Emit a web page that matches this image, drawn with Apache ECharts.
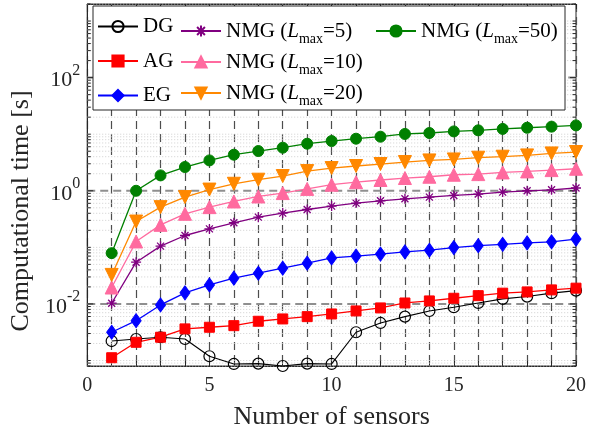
<!DOCTYPE html>
<html><head><meta charset="utf-8">
<script src="https://cdn.jsdelivr.net/npm/echarts@6/dist/echarts.min.js"></script>
<style>html,body{margin:0;padding:0;background:#fff}#c{width:589px;height:435px}</style>
</head><body><div id="c"></div>
<script>
// ---- data ----
const sensors = [1,2,3,4,5,6,7,8,9,10,11,12,13,14,15,16,17,18,19,20];
const DG    = [0.00221,0.0024,0.00258,0.0024,0.00119,0.00087,0.00088,0.0008,0.00088,0.00087,0.00316,0.00461,0.00596,0.0075,0.00875,0.0104,0.0123,0.0135,0.0155,0.0172];
const AG    = [0.00112,0.0021,0.00258,0.00362,0.00387,0.00413,0.00494,0.00543,0.00596,0.00665,0.00752,0.0085,0.0104,0.0113,0.0126,0.014,0.0155,0.0163,0.0177,0.019];
const EG    = [0.00316,0.00506,0.0096,0.0157,0.0217,0.0285,0.0349,0.0428,0.0525,0.065,0.070,0.076,0.083,0.089,0.099,0.107,0.113,0.120,0.125,0.140];
const NMG5  = [0.0103,0.0547,0.105,0.162,0.212,0.272,0.342,0.403,0.467,0.536,0.605,0.665,0.721,0.773,0.826,0.875,0.948,1.0,1.04,1.12];
const NMG10 = [0.0195,0.127,0.25,0.392,0.514,0.647,0.794,0.91,1.08,1.28,1.42,1.55,1.68,1.77,1.92,1.97,2.11,2.20,2.32,2.45];
const NMG20 = [0.0326,0.286,0.514,0.773,1.05,1.33,1.57,1.82,2.23,2.52,2.74,2.97,3.22,3.44,3.58,3.84,4.0,4.22,4.57,4.84];
const NMG50 = [0.079,1.0,1.87,2.63,3.44,4.34,5.04,5.77,6.79,7.57,8.32,9.03,10.1,10.5,11.2,11.7,12.4,13.0,13.6,14.3];
const xTickLabels = [0,5,10,15,20];
const yTickExponents = [-2,0,2];
const yMin = 8e-4, yMax = 2000;
const lmaxValues = {NMG5:'5', NMG10:'10', NMG20:'20', NMG50:'50'};

// minor/major tick values for the log axis (MATLAB-style 1..9 x 10^k)
const yTickValues = [];
for (let k = -4; k <= 3; k++) {
  for (let m = 1; m <= 9; m++) {
    const v = +(m * Math.pow(10, k)).toPrecision(6);
    if (v >= yMin && v <= yMax) yTickValues.push(v);
  }
}

const FONT = 'Liberation Serif';
const TXT = '#262626';
const asterisk = 'path://M5,0 L5,10 M0,5 L10,5 M1.5,1.5 L8.5,8.5 M1.5,8.5 L8.5,1.5';

function pairs(arr){ return sensors.map((s,i)=>[s, arr[i]]); }
function isMajor(v){ const e = Math.log10(v); const r = Math.round(e); return Math.abs(e-r)<1e-6 && yTickExponents.includes(r); }

const chart = echarts.init(document.getElementById('c'), null, {renderer:'canvas'});

function lineSeries(name, data, color, symbol, size, extra){
  return Object.assign({
    name, type:'line', data: pairs(data), symbol, symbolSize: size,
    clip:false, animation:false, z:5,
    lineStyle:{color, width:1.3},
    itemStyle:{color, borderColor:color, borderWidth:1}
  }, extra||{});
}

const legendRich = {
  t:{fontFamily:FONT, fontSize:21, color:'#000', lineHeight:30},
  i:{fontFamily:FONT, fontSize:21, fontStyle:'italic', color:'#000', lineHeight:30},
  sub:{fontFamily:FONT, fontSize:14, color:'#000', lineHeight:14, padding:[16,0,0,0]}
};
function legendFmt(name){
  if (lmaxValues[name]) return '{t|NMG (}{i|L}{sub|max}{t|=' + lmaxValues[name] + ')}';
  return '{t|' + name + '}';
}
function mkLegend(data, left, gap){
  return {data, orient:'vertical', left, top:16, itemWidth:40, itemHeight:14, itemGap:gap,
    padding:0, z:20, formatter:legendFmt, selectedMode:false,
    textStyle:{rich:legendRich, fontFamily:FONT, fontSize:21, color:'#000'}};
}

const option = {
  animation:false,
  backgroundColor:'#fff',
  grid:{left:87, right:13, top:4, bottom:68, show:true, borderColor:TXT, borderWidth:1, containLabel:false},
  graphic:[{type:'rect', shape:{x:93, y:6, width:472, height:104}, style:{fill:'#fff', stroke:TXT, lineWidth:1}, z:15}],
  legend:[ mkLegend(['DG','AG','EG'], 97, 13.5), mkLegend(['NMG5','NMG10','NMG20'], 180, 1), mkLegend(['NMG50'], 375, 1) ],
  xAxis:[{
    type:'value', min:0, max:20, interval:1, position:'bottom',
    name:'Number of sensors', nameLocation:'middle', nameGap:38,
    nameTextStyle:{fontFamily:FONT, fontSize:26, color:TXT},
    axisLine:{show:true, lineStyle:{color:TXT}},
    axisTick:{show:true, inside:true, length:5, lineStyle:{color:TXT}},
    axisLabel:{fontFamily:FONT, fontSize:20, color:TXT, margin:10,
      formatter:v=> xTickLabels.includes(v) ? String(v) : ''},
    splitLine:{show:true, lineStyle:{color:'#4d4d4d', width:1.2, type:[8,5]}}
  },{
    type:'value', min:0, max:20, interval:1, position:'top',
    axisLine:{show:true, lineStyle:{color:TXT}},
    axisTick:{show:true, inside:true, length:5, lineStyle:{color:TXT}},
    axisLabel:{show:false}, splitLine:{show:false}
  }],
  yAxis:[{
    type:'log', logBase:10, min:yMin, max:yMax,
    name:'Computational time [s]', nameLocation:'middle', nameGap:52,
    nameTextStyle:{fontFamily:FONT, fontSize:26, color:TXT, padding:[0,52,0,0]},
    axisLine:{show:true, lineStyle:{color:TXT}},
    axisTick:{show:false}, splitLine:{show:false}, minorTick:{show:false},
    axisLabel:{fontFamily:FONT, fontSize:22, color:TXT, margin:7, showMinLabel:false, showMaxLabel:false,
      formatter:v=>{ const e=Math.log10(v), r=Math.round(e); if(Math.abs(e-r)>1e-6 || !yTickExponents.includes(r)) return ''; return '{b|10}{s|'+r+'}'; },
      rich:{ b:{fontFamily:FONT, fontSize:22, color:TXT, padding:[6,0,0,0]}, s:{fontFamily:FONT, fontSize:16, color:TXT, padding:[0,0,14,0]} } }
  }],
  series:[
    {
      type:'custom', silent:true, z:1, clip:false, animation:false,
      data: yTickValues.map(v=>[0,v]), encode:{x:0, y:1},
      renderItem:(params, api)=>{
        const v = api.value(1);
        const p0 = api.coord([0, v]), p1 = api.coord([20, v]);
        const major = isMajor(v);
        const len = major ? 6 : 3.5;
        const children = [];
        children.push({type:'line', shape:{x1:p0[0], y1:p0[1], x2:p1[0], y2:p1[1]},
          style: major ? {stroke:'#8f8f8f', lineWidth:2, lineDash:[8,5]} : {stroke:'#cfcfcf', lineWidth:1, lineDash:[1,2]}});
        children.push({type:'line', shape:{x1:p0[0], y1:p0[1], x2:p0[0]+len, y2:p0[1]}, style:{stroke:TXT, lineWidth:1}});
        children.push({type:'line', shape:{x1:p1[0]-len, y1:p1[1], x2:p1[0], y2:p1[1]}, style:{stroke:TXT, lineWidth:1}});
        return {type:'group', children};
      }
    },
    lineSeries('DG', DG, '#000000', 'circle', 11, {lineStyle:{color:'#000', width:1.1}, itemStyle:{color:'rgba(0,0,0,0)', borderColor:'#000', borderWidth:1.2}}),
    lineSeries('AG', AG, '#ff0000', 'rect', 10),
    lineSeries('EG', EG, '#0000ff', 'diamond', [10,14]),
    lineSeries('NMG5', NMG5, '#800080', asterisk, 10, {itemStyle:{color:'rgba(0,0,0,0)', borderColor:'#800080', borderWidth:1.3}}),
    lineSeries('NMG10', NMG10, '#ff6a9f', 'triangle', 13),
    lineSeries('NMG20', NMG20, '#ff8800', 'triangle', 13, {symbolRotate:180}),
    lineSeries('NMG50', NMG50, '#008000', 'circle', 11)
  ]
};
chart.setOption(option);
</script>
</body></html>
